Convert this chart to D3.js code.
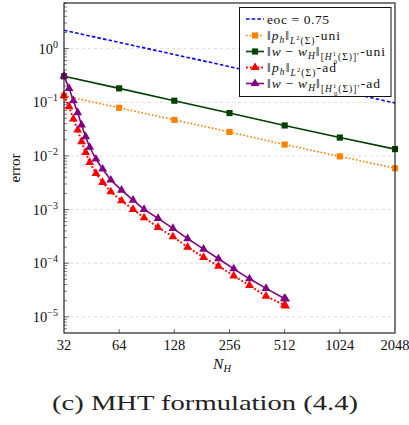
<!DOCTYPE html>
<html>
<head>
<meta charset="utf-8">
<script src="https://cdn.jsdelivr.net/npm/d3@7"></script>
<style>
  html, body { margin: 0; padding: 0; background: #fff; }
  svg { display: block; }
</style>
</head>
<body>
<svg id="chart" width="409" height="425"></svg>
<script>
// data
const xTicks = [32, 64, 128, 256, 512, 1024, 2048];
const yDecades = [0, -1, -2, -3, -4, -5];

const eocN = [32, 2048];
const eocErr = [2.2, 0.0972];

const uniN = [32, 64, 128, 256, 512, 1024, 2048];
const phUni = [0.133, 0.079, 0.047, 0.028, 0.0163, 0.0098, 0.0059];
const wUni = [0.305, 0.182, 0.107, 0.063, 0.037, 0.022, 0.0134];

const adN = [32, 34.1, 36, 38, 39.9, 42, 44.2, 47.8, 52, 57.6, 65.9, 76.2, 87.5,
  104.3, 125.8, 151.3, 184.9, 223, 270, 329, 405, 510, 518];
const phAd = [0.133, 0.0828, 0.0488, 0.0304, 0.0184, 0.01167, 0.0076, 0.00473,
  0.00321, 0.00215, 0.00146, 0.00101, 0.000703, 0.000466, 0.000311, 0.0002,
  0.000128, 8.83e-5, 5.82e-5, 3.85e-5, 2.43e-5, 1.66e-5, 1.6e-5];
const wAd = [0.31, 0.182, 0.107, 0.064, 0.0377, 0.0228, 0.0145, 0.00875, 0.0057,
  0.00355, 0.00231, 0.0015, 0.00101, 0.000686, 0.000446, 0.000288, 0.000183,
  0.000121, 7.87e-5, 5.12e-5, 3.39e-5, 2.2e-5, 2.15e-5];

const SERIF = '"Liberation Serif", "DejaVu Serif", serif';
const svg = d3.select('#chart').attr('font-family', SERIF);
const box = {left: 64, right: 395, top: 3, bottom: 333};

const x = d3.scaleLog().base(2).domain([32, 2048]).range([box.left, box.right]);
const y = d3.scaleLog().domain([5e-6, 7.1]).range([box.bottom, box.top]);

// grid
svg.append('g').selectAll('line').data(yDecades).join('line')
  .attr('x1', box.left).attr('x2', box.right)
  .attr('y1', d => y(Math.pow(10, d))).attr('y2', d => y(Math.pow(10, d)))
  .attr('stroke', '#dcdcdc').attr('stroke-width', 1).attr('stroke-dasharray', '3,3');

// y minor/major ticks (inside)
const minor = [];
for (let e = -6; e <= 0; e++) for (let m = 2; m <= 9; m++) {
  const v = m * Math.pow(10, e);
  if (v > 5e-6 && v < 7.1) minor.push(v);
}
svg.append('g').selectAll('line').data(minor).join('line')
  .attr('x1', box.left).attr('x2', box.left + 3)
  .attr('y1', d => y(d)).attr('y2', d => y(d))
  .attr('stroke', '#444').attr('stroke-width', 0.7);
svg.append('g').selectAll('line').data(yDecades).join('line')
  .attr('x1', box.left).attr('x2', box.left + 5)
  .attr('y1', d => y(Math.pow(10, d))).attr('y2', d => y(Math.pow(10, d)))
  .attr('stroke', '#444').attr('stroke-width', 0.8);
svg.append('g').selectAll('line').data(xTicks.slice(1, -1)).join('line')
  .attr('x1', d => x(d)).attr('x2', d => x(d))
  .attr('y1', box.bottom).attr('y2', box.bottom - 4)
  .attr('stroke', '#444').attr('stroke-width', 0.8);

// tick labels
svg.append('g').selectAll('text').data(xTicks).join('text')
  .attr('fill', '#111')
  .attr('x', d => x(d)).attr('y', 350)
  .attr('text-anchor', 'middle').attr('font-size', 14.5)
  .text(d => d);

const yl = svg.append('g').selectAll('text').data(yDecades).join('text')
  .attr('fill', '#111')
  .attr('x', 58).attr('y', d => y(Math.pow(10, d)) + 5)
  .attr('text-anchor', 'end').attr('font-size', 14.5);
yl.append('tspan').text('10');
yl.append('tspan').attr('dy', -6).attr('font-size', 10)
  .text(d => d === 0 ? '0' : '\u2212' + (-d));

// series
const line = d3.line().x(d => x(d[0])).y(d => y(d[1]));
const series = [
  {n: eocN, v: eocErr, color: '#0000ff', dash: '3.5,2.2', w: 1.6, marker: null},
  {n: uniN, v: phUni, color: '#ff8000', dash: '1.6,2', w: 1.6, marker: 'sq'},
  {n: uniN, v: wUni, color: '#004000', dash: null, w: 1.6, marker: 'sq'},
  {n: adN, v: phAd, color: '#ff0000', dash: '1.8,2', w: 2, marker: 'tri'},
  {n: adN, v: wAd, color: '#800080', dash: null, w: 1.6, marker: 'tri'}
];
const sym = {
  sq: d3.symbol().type(d3.symbolSquare).size(38),
  tri: d3.symbol().type(d3.symbolTriangle).size(34)
};

const plot = svg.append('g');
series.forEach(s => {
  const pts = s.n.map((n, i) => [n, s.v[i]]);
  plot.append('path').datum(pts)
    .attr('d', line).attr('fill', 'none')
    .attr('stroke', s.color).attr('stroke-width', s.w)
    .attr('stroke-dasharray', s.dash);
  if (s.marker) {
    plot.append('g').selectAll('path').data(pts).join('path')
      .attr('transform', d => `translate(${x(d[0])},${y(d[1])})`)
      .attr('d', sym[s.marker]).attr('fill', s.color);
  }
});

// frame
svg.append('rect')
  .attr('x', box.left).attr('y', box.top)
  .attr('width', box.right - box.left).attr('height', box.bottom - box.top)
  .attr('fill', 'none').attr('stroke', '#111').attr('stroke-width', 1.1);

// axis labels
svg.append('text').attr('transform', 'translate(20,168) rotate(-90)')
  .attr('fill', '#111')
  .attr('text-anchor', 'middle').attr('font-size', 15).text('error');

const nh = svg.append('text').attr('x', 222).attr('y', 369)
  .attr('fill', '#111')
  .attr('font-size', 15.5).attr('text-anchor', 'middle');
nh.append('tspan').attr('font-style', 'italic').text('N');
nh.append('tspan').attr('font-style', 'italic').attr('font-size', 10.5).attr('dy', 3).text('H');

// caption
svg.append('text').attr('x', 52).attr('y', 410)
  .attr('fill', '#222')
  .attr('font-size', 21).attr('textLength', 306).attr('lengthAdjust', 'spacingAndGlyphs')
  .text('(c) MHT formulation (4.4)');

// legend
const lg = svg.append('g');
lg.append('rect').attr('x', 239.5).attr('y', 7.5).attr('width', 151.5).attr('height', 89)
  .attr('fill', '#fff').attr('stroke', '#111').attr('stroke-width', 1);

// rich text pieces: [text, italic?, size, offset, dx]
const S = 13.5, s1 = 9.5, s2 = 6.5;
const normSub = (end) => [['\u2016', 0, S, 0], ['p', 1, S, 0], ['h', 1, s1, 2.5], ['\u2016', 0, S, 0],
  ['L', 1, s1, 3.5], ['2', 0, s2, 0], ['(\u03a3)', 0, s1, 3.5], [end, 0, S, 0]];
const dualSub = (end) => [['\u2016', 0, S, 0], ['w', 1, S, 0], ['\u2009\u2212\u2009', 0, S, 0],
  ['w', 1, S, 0], ['H', 1, s1, 2.5], ['\u2016', 0, S, 0], ['[', 0, s1, 3.5], ['H', 1, s1, 3.5],
  ['1', 0, s2, -0.5], ['0', 0, s2, 7.5, -3.3], ['(\u03a3)]\u2032', 0, s1, 3.5], [end, 0, S, 0]];
const labels = [
  [['eoc = 0.75', 0, S, 0]],
  normSub('-uni'), dualSub('-uni'), normSub('-ad'), dualSub('-ad')
];
// widths of each legend entry in the reference
const labelW = [62, 73, 118, 69, 113];
const rowY = [19, 35.5, 51.5, 67.5, 83.5];

series.forEach((s, i) => {
  const cy = rowY[i];
  lg.append('line').attr('x1', 246).attr('x2', 264).attr('y1', cy).attr('y2', cy)
    .attr('stroke', s.color).attr('stroke-width', s.w).attr('stroke-dasharray', s.dash);
  if (s.marker) {
    lg.append('path').attr('transform', `translate(255,${cy})`)
      .attr('d', sym[s.marker]).attr('fill', s.color);
  }
  const t = lg.append('text').attr('x', 267).attr('y', cy + 4.5)
    .attr('fill', '#111').attr('textLength', labelW[i]).attr('lengthAdjust', 'spacing');
  let prev = 0;
  labels[i].forEach(p => {
    const ts = t.append('tspan').attr('font-size', p[2]).attr('dy', p[3] - prev).text(p[0]);
    if (p[1]) ts.attr('font-style', 'italic');
    if (p[4]) ts.attr('dx', p[4]);
    prev = p[3];
  });
});
</script>
</body>
</html>
